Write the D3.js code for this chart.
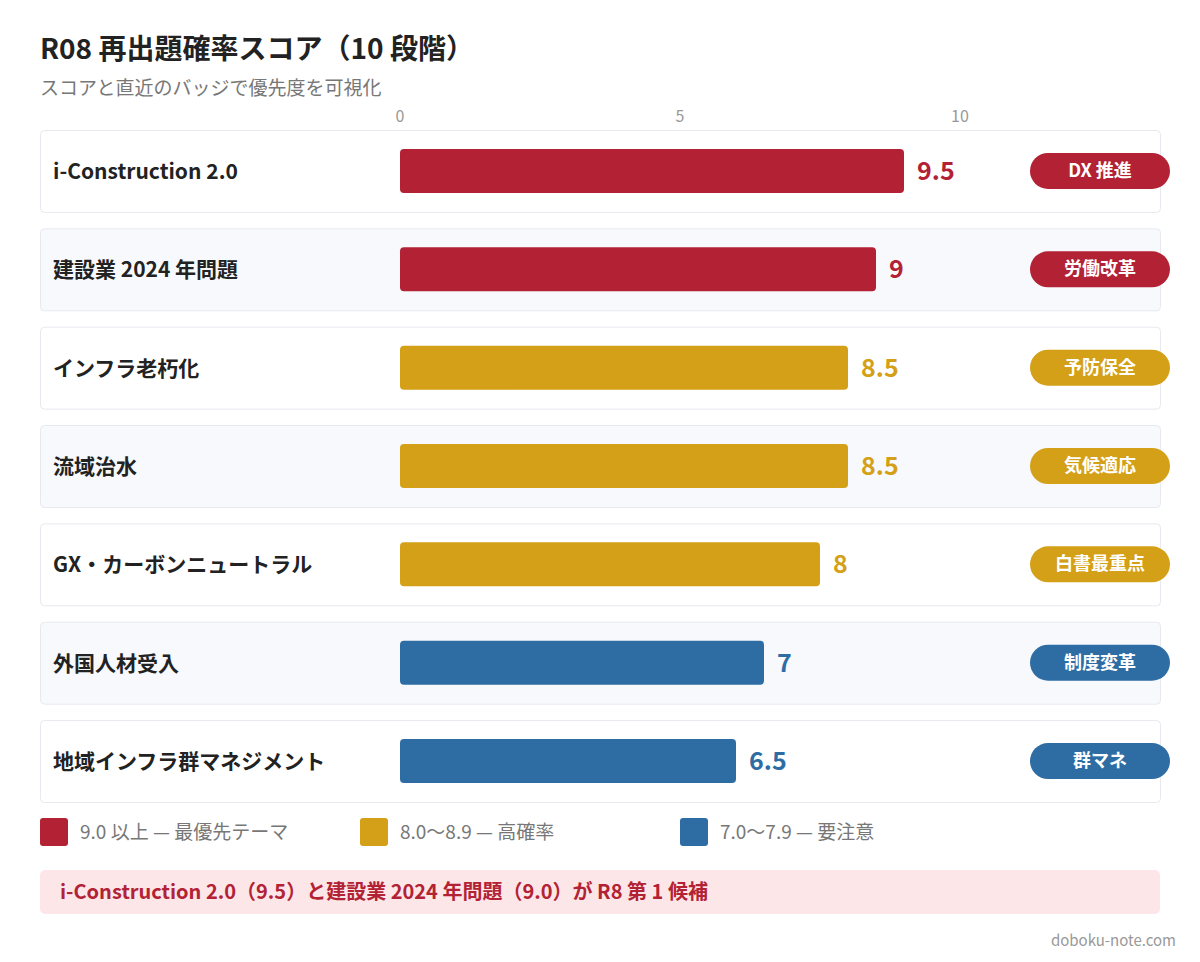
<!DOCTYPE html>
<html><head><meta charset="utf-8">
<script src="https://cdn.jsdelivr.net/npm/d3@7"></script>
<style>body{margin:0;background:#fff}text{font-family:"Noto Sans CJK JP","Noto Sans",sans-serif}</style>
</head><body><svg id="c" width="1200" height="962"></svg>
<script>
const topics = ["i-Construction 2.0","建設業 2024 年問題","インフラ老朽化","流域治水","GX・カーボンニュートラル","外国人材受入","地域インフラ群マネジメント"];
const scores = [9.5, 9, 8.5, 8.5, 8, 7, 6.5];
const badges = ["DX 推進","労働改革","予防保全","気候適応","白書最重点","制度変革","群マネ"];
const ticks = [0, 5, 10];
const legendLabels = ["9.0 以上 — 最優先テーマ","8.0〜8.9 — 高確率","7.0〜7.9 — 要注意"];
const legendColors = ["#b22234","#d4a017","#2e6da4"];

const color = v => v >= 9 ? legendColors[0] : v >= 8 ? legendColors[1] : legendColors[2];
const svg = d3.select("#c");
const x = d3.scaleLinear().domain([0, 10]).range([400, 960]);
const y = d3.scaleBand().domain(topics).range([130, 130 + 96 * topics.length]).paddingInner(16 / 96).paddingOuter(0);

svg.append("text").attr("x", 40).attr("y", 59).attr("font-size", 28).attr("font-weight", 700).attr("fill", "#222").text("R08 再出題確率スコア（10 段階）");
svg.append("text").attr("x", 40).attr("y", 95).attr("font-size", 19).attr("fill", "#777").text("スコアと直近のバッジで優先度を可視化");

svg.selectAll(".tk").data(ticks).enter().append("text")
  .attr("x", d => x(d)).attr("y", 122).attr("text-anchor", "middle").attr("font-size", 16).attr("fill", "#999").text(d => d);

const row = svg.selectAll(".row").data(topics).enter().append("g").attr("transform", d => `translate(0,${y(d)})`);
const h = y.bandwidth();
row.append("rect").attr("x", 40.5).attr("y", 0.5).attr("width", 1120).attr("height", h)
  .attr("rx", 4).attr("fill", (d, i) => i % 2 ? "#f7f9fc" : "#fff").attr("stroke", "#e6e9ee");
row.append("text").attr("x", 53).attr("y", h / 2 + 8).attr("font-size", 21).attr("font-weight", 700).attr("fill", "#222").text(d => d);
row.append("rect").attr("x", x(0)).attr("y", h / 2 - 22).attr("height", 44).attr("rx", 4)
  .attr("width", (d, i) => x(scores[i]) - x(0) - 28).attr("fill", (d, i) => color(scores[i]));
row.append("text").attr("x", (d, i) => x(scores[i]) - 28 + 13).attr("y", h / 2 + 9).attr("font-size", 25).attr("font-weight", 700)
  .attr("fill", (d, i) => color(scores[i])).text((d, i) => scores[i]);
row.append("rect").attr("x", 1030).attr("y", h / 2 - 18).attr("width", 140).attr("height", 36).attr("rx", 18).attr("fill", (d, i) => color(scores[i]));
row.append("text").attr("x", 1100).attr("y", h / 2 + 6).attr("text-anchor", "middle").attr("font-size", 18).attr("font-weight", 700).attr("fill", "#fff").text((d, i) => badges[i]);

const lg = svg.selectAll(".lg").data(legendLabels).enter().append("g").attr("transform", (d, i) => `translate(${40 + i * 320},818)`);
lg.append("rect").attr("width", 28).attr("height", 28).attr("rx", 3).attr("fill", (d, i) => legendColors[i]);
lg.append("text").attr("x", 40).attr("y", 21).attr("font-size", 19).attr("fill", "#777").text(d => d);

svg.append("rect").attr("x", 40).attr("y", 870).attr("width", 1120).attr("height", 44).attr("rx", 5).attr("fill", "#fce6e8");
svg.append("text").attr("x", 60).attr("y", 899).attr("font-size", 20).attr("font-weight", 700).attr("fill", "#b22234")
  .text("i-Construction 2.0（9.5）と建設業 2024 年問題（9.0）が R8 第 1 候補");
svg.append("text").attr("x", 1176).attr("y", 946).attr("text-anchor", "end").attr("font-size", 15).attr("fill", "#999").text("doboku-note.com");
</script></body></html>
